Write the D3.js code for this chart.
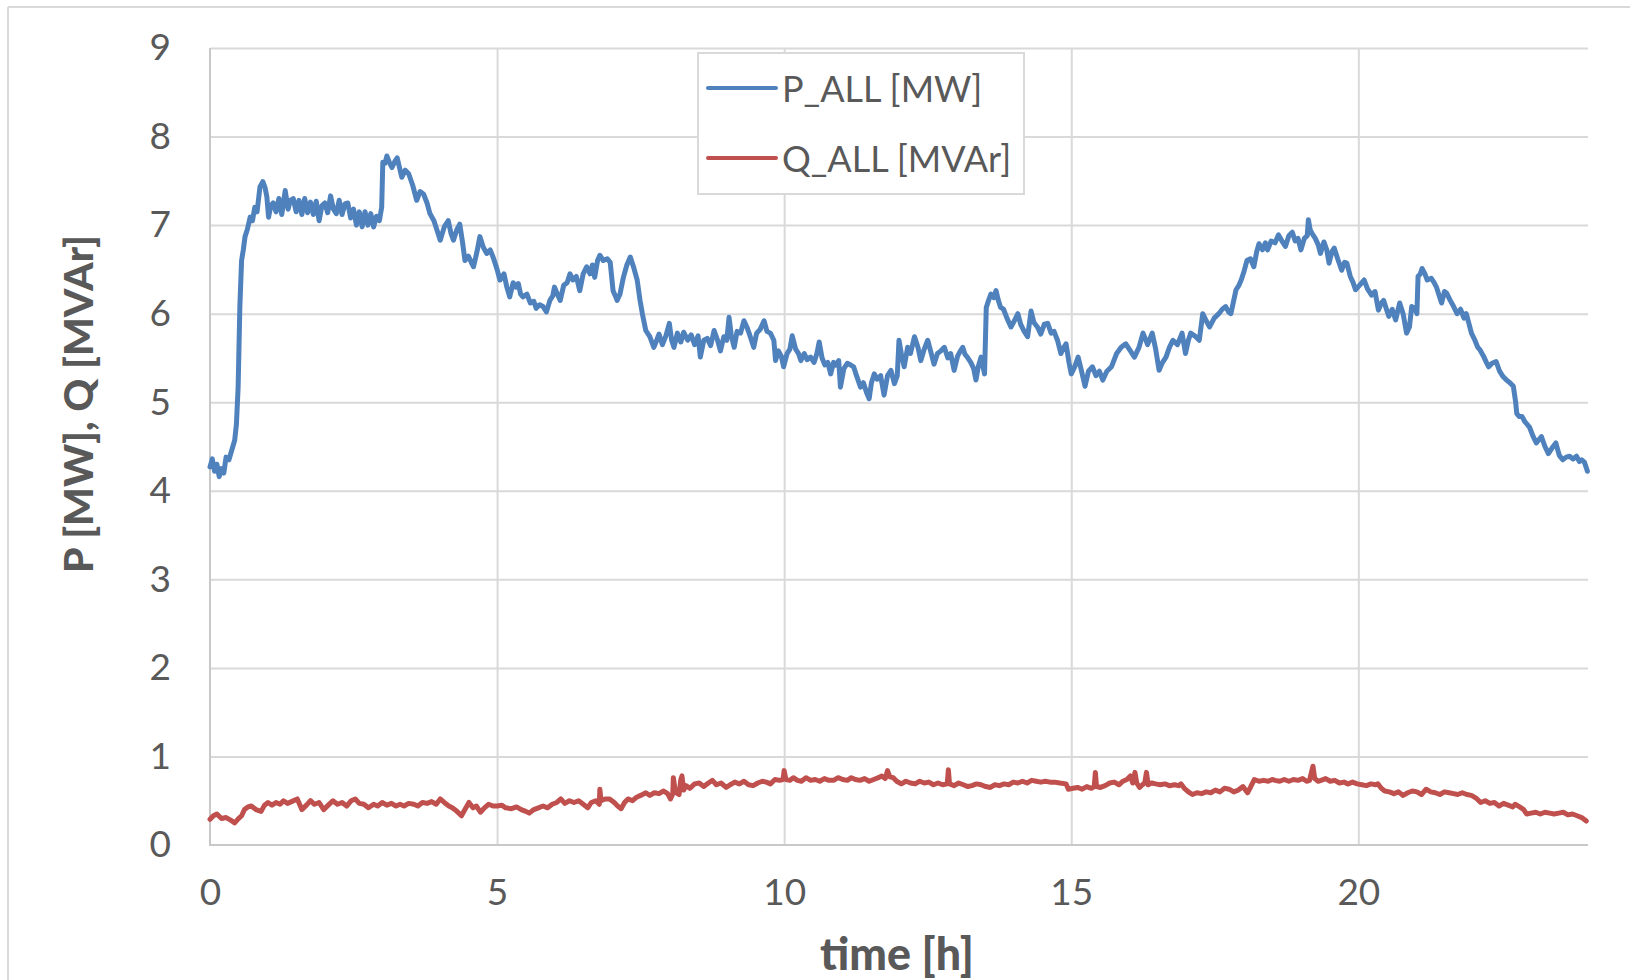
<!DOCTYPE html>
<html><head><meta charset="utf-8">
<script src="https://cdn.jsdelivr.net/npm/d3@7"></script>
<style>body{margin:0;background:#fff}svg{display:block}text{font-family:Lato,"Open Sans",sans-serif}</style>
</head><body><svg id="c" width="1639" height="980"></svg>
<script>
// ---- data ----
const pTime = [0.00,0.04,0.08,0.12,0.16,0.20,0.24,0.28,0.33,0.38,0.43,0.46,0.49,0.52,0.55,0.58,0.61,0.65,0.70,0.74,0.78,0.82,0.87,0.92,0.96,0.99,1.02,1.06,1.10,1.15,1.20,1.25,1.31,1.36,1.40,1.45,1.50,1.55,1.60,1.65,1.70,1.75,1.80,1.85,1.90,1.95,2.00,2.05,2.10,2.15,2.20,2.25,2.30,2.35,2.40,2.45,2.50,2.55,2.60,2.65,2.70,2.75,2.80,2.85,2.90,2.95,2.99,3.01,3.05,3.08,3.13,3.17,3.22,3.26,3.30,3.34,3.40,3.46,3.53,3.60,3.66,3.72,3.78,3.83,3.90,3.95,4.01,4.08,4.15,4.20,4.24,4.30,4.35,4.40,4.44,4.50,4.55,4.59,4.65,4.70,4.76,4.82,4.88,4.93,5.00,5.05,5.12,5.17,5.22,5.28,5.33,5.37,5.41,5.45,5.52,5.58,5.64,5.68,5.74,5.80,5.86,5.92,5.97,6.00,6.05,6.10,6.16,6.22,6.27,6.32,6.38,6.44,6.50,6.56,6.62,6.66,6.70,6.75,6.79,6.85,6.92,6.97,7.02,7.06,7.09,7.14,7.20,7.26,7.32,7.38,7.44,7.49,7.53,7.59,7.66,7.73,7.78,7.82,7.88,7.94,8.00,8.04,8.08,8.14,8.20,8.25,8.32,8.38,8.44,8.50,8.54,8.60,8.66,8.72,8.78,8.84,8.89,8.95,9.00,9.04,9.08,9.13,9.18,9.24,9.30,9.35,9.40,9.47,9.52,9.58,9.65,9.70,9.76,9.82,9.85,9.90,9.95,9.99,10.05,10.10,10.14,10.20,10.25,10.29,10.35,10.40,10.46,10.52,10.57,10.61,10.66,10.71,10.76,10.81,10.86,10.90,10.95,10.98,11.04,11.10,11.16,11.21,11.26,11.33,11.38,11.44,11.48,11.52,11.57,11.62,11.68,11.74,11.80,11.86,11.92,11.97,12.00,12.04,12.09,12.15,12.20,12.27,12.33,12.38,12.44,12.50,12.55,12.61,12.67,12.73,12.79,12.85,12.90,12.96,13.02,13.07,13.11,13.15,13.19,13.25,13.30,13.34,13.38,13.43,13.49,13.52,13.56,13.60,13.65,13.69,13.73,13.77,13.82,13.88,13.95,14.01,14.07,14.12,14.18,14.24,14.30,14.35,14.41,14.47,14.53,14.59,14.65,14.70,14.76,14.82,14.87,14.91,14.96,15.00,15.06,15.12,15.18,15.24,15.30,15.37,15.43,15.49,15.55,15.62,15.70,15.79,15.87,15.95,16.03,16.10,16.18,16.25,16.33,16.41,16.47,16.53,16.59,16.65,16.71,16.77,16.85,16.93,16.99,17.04,17.08,17.15,17.23,17.29,17.35,17.41,17.49,17.57,17.63,17.69,17.74,17.78,17.83,17.87,17.92,17.96,18.01,18.06,18.12,18.18,18.23,18.27,18.33,18.38,18.42,18.48,18.55,18.61,18.67,18.73,18.79,18.85,18.90,18.95,19.00,19.06,19.11,19.13,19.16,19.19,19.25,19.30,19.34,19.40,19.45,19.49,19.54,19.58,19.64,19.71,19.76,19.80,19.86,19.91,19.95,20.02,20.10,20.16,20.23,20.29,20.35,20.40,20.44,20.49,20.53,20.59,20.65,20.72,20.78,20.84,20.89,20.93,20.99,21.02,21.04,21.08,21.11,21.16,21.20,21.27,21.32,21.36,21.41,21.45,21.50,21.54,21.60,21.66,21.72,21.78,21.84,21.88,21.93,21.97,22.03,22.08,22.12,22.18,22.23,22.27,22.33,22.40,22.46,22.52,22.58,22.64,22.70,22.74,22.76,22.80,22.85,22.90,22.98,23.04,23.10,23.15,23.19,23.25,23.31,23.37,23.44,23.50,23.56,23.62,23.68,23.74,23.80,23.85,23.89,23.94,23.99];
const pValues = [4.27,4.36,4.22,4.30,4.16,4.25,4.20,4.38,4.35,4.46,4.57,4.75,5.17,6.08,6.60,6.72,6.87,6.95,7.09,7.05,7.20,7.15,7.43,7.49,7.42,7.32,7.09,7.22,7.25,7.15,7.30,7.12,7.39,7.18,7.28,7.30,7.15,7.28,7.12,7.30,7.14,7.26,7.12,7.27,7.05,7.22,7.25,7.14,7.33,7.18,7.13,7.28,7.12,7.24,7.25,7.08,7.18,7.00,7.15,6.98,7.15,7.00,7.13,6.98,7.10,7.05,7.20,7.71,7.70,7.78,7.70,7.65,7.72,7.76,7.65,7.54,7.62,7.58,7.45,7.28,7.38,7.35,7.25,7.13,7.05,6.95,6.83,6.98,7.05,6.90,6.83,6.95,7.01,6.80,6.60,6.65,6.58,6.53,6.70,6.87,6.75,6.68,6.72,6.64,6.50,6.38,6.45,6.30,6.19,6.35,6.30,6.34,6.22,6.19,6.22,6.12,6.14,6.06,6.10,6.08,6.02,6.15,6.20,6.30,6.22,6.15,6.32,6.35,6.45,6.38,6.42,6.26,6.45,6.53,6.45,6.55,6.41,6.60,6.66,6.60,6.62,6.58,6.26,6.20,6.15,6.22,6.41,6.55,6.64,6.52,6.38,6.15,6.00,5.81,5.74,5.62,5.70,5.77,5.65,5.75,5.89,5.70,5.62,5.78,5.68,5.79,5.70,5.76,5.65,5.75,5.51,5.70,5.72,5.64,5.81,5.70,5.58,5.74,5.70,5.96,5.75,5.62,5.80,5.78,5.92,5.85,5.76,5.62,5.78,5.82,5.92,5.80,5.78,5.70,5.47,5.58,5.52,5.40,5.55,5.60,5.75,5.60,5.55,5.47,5.55,5.48,5.51,5.45,5.55,5.68,5.50,5.42,5.45,5.32,5.45,5.42,5.47,5.17,5.38,5.44,5.42,5.40,5.30,5.17,5.22,5.10,5.04,5.22,5.32,5.26,5.30,5.08,5.30,5.36,5.21,5.30,5.70,5.55,5.40,5.62,5.55,5.74,5.62,5.47,5.60,5.70,5.58,5.43,5.55,5.58,5.62,5.50,5.55,5.36,5.52,5.58,5.62,5.54,5.51,5.45,5.38,5.25,5.40,5.51,5.32,6.07,6.15,6.22,6.18,6.26,6.15,6.07,6.05,5.95,5.85,5.92,6.00,5.88,5.80,5.74,6.03,5.90,5.85,5.77,5.88,5.89,5.78,5.80,5.70,5.55,5.62,5.66,5.45,5.32,5.40,5.51,5.35,5.18,5.35,5.40,5.30,5.35,5.25,5.35,5.40,5.55,5.62,5.66,5.58,5.51,5.62,5.78,5.65,5.78,5.60,5.36,5.45,5.51,5.62,5.70,5.65,5.78,5.55,5.70,5.78,5.75,5.70,6.00,5.92,5.85,5.95,6.00,6.05,6.08,6.02,6.00,6.15,6.27,6.32,6.38,6.48,6.60,6.62,6.53,6.70,6.79,6.72,6.80,6.72,6.82,6.80,6.89,6.82,6.76,6.88,6.92,6.82,6.85,6.72,6.85,6.88,7.06,6.95,6.91,6.85,6.78,6.68,6.81,6.72,6.57,6.70,6.74,6.62,6.49,6.58,6.57,6.42,6.35,6.27,6.32,6.38,6.28,6.21,6.25,6.04,6.12,6.15,6.05,5.97,6.05,5.93,6.12,6.00,5.78,5.85,6.08,6.05,6.00,6.42,6.45,6.51,6.45,6.38,6.40,6.35,6.30,6.20,6.12,6.25,6.23,6.15,6.08,6.00,6.05,5.95,6.00,5.88,5.78,5.70,5.62,5.59,5.52,5.45,5.40,5.44,5.46,5.35,5.29,5.25,5.22,5.18,5.00,4.87,4.84,4.84,4.78,4.72,4.62,4.54,4.58,4.61,4.50,4.42,4.48,4.54,4.40,4.35,4.38,4.39,4.36,4.39,4.33,4.35,4.32,4.22];
const qTime = [0.00,0.06,0.12,0.20,0.28,0.36,0.43,0.50,0.55,0.60,0.66,0.72,0.80,0.89,0.95,1.01,1.08,1.15,1.22,1.28,1.35,1.42,1.52,1.60,1.68,1.75,1.82,1.90,1.98,2.06,2.14,2.22,2.30,2.38,2.46,2.53,2.60,2.68,2.76,2.85,2.92,3.00,3.08,3.16,3.24,3.31,3.38,3.46,3.55,3.62,3.70,3.78,3.86,3.94,4.01,4.08,4.16,4.22,4.30,4.38,4.44,4.51,4.58,4.64,4.71,4.78,4.85,4.93,5.01,5.08,5.15,5.25,5.34,5.42,5.50,5.56,5.64,5.72,5.80,5.88,5.96,6.04,6.11,6.18,6.26,6.34,6.42,6.50,6.58,6.64,6.72,6.78,6.79,6.81,6.88,6.96,7.04,7.10,7.16,7.22,7.28,7.36,7.43,7.50,7.59,7.66,7.74,7.82,7.90,7.97,8.02,8.06,8.07,8.10,8.14,8.17,8.20,8.22,8.25,8.29,8.36,8.44,8.52,8.60,8.68,8.75,8.82,8.90,8.99,9.06,9.14,9.22,9.30,9.38,9.46,9.54,9.62,9.69,9.76,9.84,9.92,9.98,10.00,10.03,10.10,10.16,10.23,10.30,10.38,10.46,10.54,10.62,10.70,10.78,10.86,10.94,11.02,11.10,11.17,11.24,11.32,11.40,11.48,11.56,11.64,11.70,11.76,11.80,11.84,11.90,11.96,12.04,12.12,12.20,12.28,12.36,12.44,12.52,12.60,12.68,12.76,12.84,12.86,12.88,12.96,13.04,13.12,13.20,13.27,13.35,13.43,13.51,13.59,13.67,13.75,13.83,13.91,13.99,14.07,14.15,14.23,14.31,14.39,14.47,14.55,14.63,14.71,14.80,14.91,14.95,15.03,15.11,15.19,15.27,15.35,15.40,15.42,15.44,15.51,15.59,15.67,15.75,15.83,15.90,15.97,16.03,16.07,16.11,16.14,16.19,16.24,16.28,16.31,16.34,16.40,16.47,16.55,16.63,16.71,16.80,16.87,16.91,16.97,17.04,17.11,17.19,17.27,17.35,17.43,17.51,17.59,17.67,17.75,17.83,17.91,17.99,18.07,18.12,18.19,18.27,18.35,18.43,18.50,18.55,18.63,18.71,18.79,18.87,18.95,19.03,19.10,19.15,19.21,19.24,19.30,19.35,19.43,19.51,19.59,19.67,19.75,19.82,19.90,19.98,20.06,20.14,20.22,20.30,20.34,20.40,20.46,20.54,20.62,20.70,20.78,20.86,20.94,21.02,21.10,21.18,21.26,21.34,21.42,21.50,21.58,21.66,21.73,21.81,21.89,21.97,22.05,22.13,22.21,22.29,22.37,22.45,22.53,22.61,22.69,22.73,22.81,22.88,22.93,23.01,23.09,23.17,23.25,23.33,23.41,23.49,23.57,23.65,23.73,23.81,23.89,23.97];
const qValues = [0.29,0.33,0.35,0.30,0.31,0.28,0.25,0.30,0.33,0.40,0.43,0.44,0.40,0.38,0.45,0.48,0.45,0.48,0.46,0.50,0.47,0.49,0.52,0.40,0.45,0.50,0.46,0.48,0.40,0.45,0.50,0.46,0.48,0.44,0.50,0.52,0.47,0.46,0.42,0.46,0.44,0.48,0.45,0.47,0.44,0.46,0.44,0.47,0.46,0.44,0.48,0.47,0.49,0.46,0.52,0.48,0.44,0.42,0.38,0.33,0.40,0.48,0.42,0.44,0.37,0.42,0.46,0.44,0.44,0.45,0.42,0.41,0.43,0.40,0.38,0.36,0.40,0.42,0.44,0.42,0.46,0.48,0.52,0.47,0.50,0.48,0.50,0.46,0.42,0.48,0.50,0.46,0.63,0.50,0.52,0.52,0.48,0.44,0.41,0.48,0.52,0.50,0.54,0.56,0.59,0.56,0.59,0.58,0.61,0.58,0.52,0.58,0.76,0.62,0.58,0.57,0.74,0.78,0.62,0.67,0.64,0.69,0.70,0.66,0.70,0.73,0.68,0.70,0.65,0.68,0.71,0.69,0.72,0.68,0.67,0.70,0.72,0.71,0.69,0.74,0.73,0.74,0.84,0.74,0.73,0.76,0.73,0.72,0.76,0.73,0.74,0.72,0.75,0.73,0.73,0.76,0.74,0.73,0.76,0.74,0.73,0.75,0.72,0.74,0.76,0.78,0.75,0.84,0.77,0.76,0.72,0.69,0.72,0.70,0.69,0.72,0.70,0.71,0.68,0.70,0.68,0.69,0.85,0.69,0.67,0.70,0.68,0.66,0.67,0.69,0.68,0.66,0.65,0.68,0.67,0.69,0.68,0.71,0.70,0.72,0.70,0.73,0.72,0.71,0.72,0.71,0.71,0.70,0.69,0.63,0.64,0.65,0.63,0.66,0.64,0.66,0.82,0.66,0.65,0.67,0.70,0.71,0.68,0.72,0.74,0.78,0.70,0.82,0.70,0.65,0.68,0.70,0.82,0.68,0.70,0.69,0.68,0.69,0.67,0.68,0.67,0.69,0.64,0.60,0.57,0.59,0.58,0.60,0.59,0.62,0.60,0.64,0.63,0.60,0.62,0.66,0.59,0.65,0.74,0.72,0.73,0.72,0.74,0.73,0.72,0.74,0.72,0.74,0.73,0.75,0.72,0.73,0.89,0.75,0.72,0.73,0.75,0.72,0.73,0.70,0.71,0.69,0.71,0.69,0.68,0.67,0.69,0.68,0.69,0.64,0.61,0.60,0.58,0.60,0.56,0.59,0.61,0.60,0.57,0.63,0.60,0.59,0.57,0.60,0.59,0.58,0.57,0.59,0.57,0.56,0.53,0.48,0.50,0.47,0.48,0.44,0.47,0.45,0.43,0.46,0.43,0.40,0.35,0.36,0.37,0.35,0.37,0.36,0.35,0.36,0.37,0.34,0.35,0.33,0.31,0.27];
const xTicks = [0, 5, 10, 15, 20];
const yTicks = [0, 1, 2, 3, 4, 5, 6, 7, 8, 9];
const seriesNames = ["P_ALL [MW]", "Q_ALL [MVAr]"];
const seriesColors = ["#4F81BD", "#C0504D"];
const xTitle = "time [h]";
const yTitle = "P [MW], Q [MVAr]";

// ---- chart ----
const svg = d3.select("#c");
const L = 210, R = 1588, T = 48, B = 845;
const x = d3.scaleLinear().domain([0, 24]).range([L, R]);
const y = d3.scaleLinear().domain([0, 9]).range([B, T]);
const txt = "#595959", grid = "#d9d9d9";
const FONT = "Lato, 'Open Sans', sans-serif";

// outer chart border (top and left edges visible)
svg.append("line").attr("x1", 8).attr("x2", 1630).attr("y1", 7).attr("y2", 7).attr("stroke", grid).attr("stroke-width", 2);
svg.append("line").attr("x1", 8).attr("x2", 8).attr("y1", 7).attr("y2", 980).attr("stroke", grid).attr("stroke-width", 2);

// gridlines via axes
svg.append("g").attr("transform", `translate(0,${B})`)
  .call(d3.axisBottom(x).tickValues(xTicks.filter(d => d > 0)).tickSize(-(B - T)).tickFormat(""))
  .call(g => { g.select(".domain").remove(); g.selectAll("line").attr("stroke", grid).attr("stroke-width", 2); });
svg.append("g").attr("transform", `translate(${L},0)`)
  .call(d3.axisLeft(y).tickValues(yTicks.filter(d => d > 0)).tickSize(-(R - L)).tickFormat(""))
  .call(g => { g.select(".domain").remove(); g.selectAll("line").attr("stroke", grid).attr("stroke-width", 2); });
// axis lines
svg.append("line").attr("x1", L).attr("x2", L).attr("y1", T).attr("y2", B).attr("stroke", "#c8c8c8").attr("stroke-width", 2);
svg.append("line").attr("x1", L - 1).attr("x2", R).attr("y1", B).attr("y2", B).attr("stroke", "#c8c8c8").attr("stroke-width", 2);

// tick labels
svg.append("g").attr("transform", `translate(${L},0)`)
  .call(d3.axisLeft(y).tickValues(yTicks).tickSize(0).tickPadding(39).tickFormat(d3.format("d")))
  .call(g => { g.select(".domain").remove(); g.selectAll("text").attr("fill", txt).attr("font-size", 37).attr("font-family", FONT); });
svg.append("g").attr("transform", `translate(0,${B})`)
  .call(d3.axisBottom(x).tickValues(xTicks).tickSize(0).tickPadding(0).tickFormat(d3.format("d")))
  .call(g => { g.select(".domain").remove(); g.selectAll("text").attr("fill", txt).attr("font-size", 37).attr("dy", "51").attr("dominant-baseline", "middle").attr("font-family", FONT); });

// lines
const series = [pTime.map((t, i) => [t, pValues[i]]), qTime.map((t, i) => [t, qValues[i]])];
const line = d3.line().x(d => x(d[0])).y(d => y(d[1]));
series.forEach((s, i) => {
  svg.append("path").attr("d", line(s)).attr("fill", "none").attr("stroke", seriesColors[i])
    .attr("stroke-width", 5).attr("stroke-linejoin", "round").attr("stroke-linecap", "round");
});

// legend
const lg = svg.append("g");
lg.append("rect").attr("x", 698).attr("y", 53).attr("width", 326).attr("height", 141)
  .attr("fill", "#fff").attr("stroke", grid).attr("stroke-width", 2);
seriesNames.forEach((n, i) => {
  const yy = 88 + i * 70;
  lg.append("line").attr("x1", 708).attr("x2", 776).attr("y1", yy).attr("y2", yy)
    .attr("stroke", seriesColors[i]).attr("stroke-width", 4).attr("stroke-linecap", "round");
  lg.append("text").attr("x", 782).attr("y", yy).attr("dominant-baseline", "central")
    .attr("fill", txt).attr("font-size", 36).text(n);
});

// titles (font size fitted to the reference text extent)
function fit(sel, target) {
  const w = sel.node().getComputedTextLength();
  const fs = +sel.attr("font-size");
  sel.attr("font-size", fs * target / w);
}
const xt = svg.append("text").attr("x", 897).attr("y", 953).attr("text-anchor", "middle").attr("dominant-baseline", "central")
  .attr("font-weight", 900).attr("fill", txt).attr("font-size", 40).text(xTitle);
fit(xt, 154);
const yt = svg.append("text").attr("transform", "translate(77,404) rotate(-90)").attr("text-anchor", "middle").attr("dominant-baseline", "central")
  .attr("font-weight", 900).attr("fill", txt).attr("font-size", 40).text(yTitle);
fit(yt, 338);
</script></body></html>
